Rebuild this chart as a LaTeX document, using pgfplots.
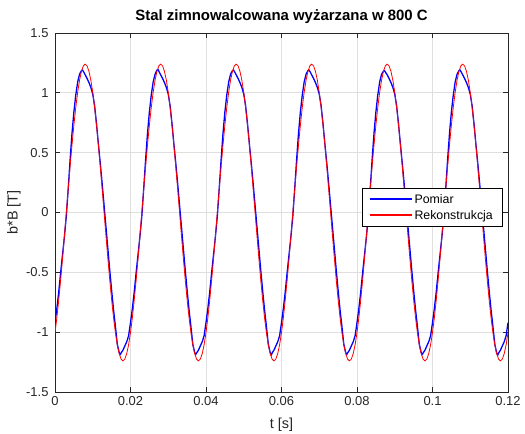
\documentclass[border=0pt]{standalone}
\usepackage{fontspec}
\setmainfont{Liberation Sans}
\usepackage{pgfplots}
\pgfplotsset{compat=1.18}
\usepackage{pgfplotstable}
\definecolor{axcol}{RGB}{38,38,38}
\definecolor{gridcol}{RGB}{223,223,223}
% Pomiar (measured)
\pgfplotstableread{
t b
0.0000 -0.92
0.0005 -0.80
0.0010 -0.66
0.0015 -0.50
0.0020 -0.35
0.0025 -0.20
0.0030 -0.03
0.0035 0.20
0.0040 0.44
0.0045 0.66
0.0050 0.84
0.0055 0.98
0.0060 1.09
0.0065 1.155
0.0070 1.185
0.0073 1.19
0.0076 1.175
0.0080 1.15
0.0085 1.12
0.0090 1.085
0.0095 1.045
0.0100 0.99
0.0105 0.89
0.0110 0.74
0.0115 0.57
0.0120 0.41
0.0125 0.24
0.0130 0.06
0.0135 -0.12
0.0140 -0.30
0.0145 -0.48
0.0150 -0.65
0.0155 -0.81
0.0160 -0.95
0.0165 -1.10
0.0170 -1.17
0.0173 -1.185
0.0176 -1.17
0.0180 -1.15
0.0185 -1.115
0.0190 -1.08
0.0195 -1.03
0.0200 -0.92
0.0205 -0.80
0.0210 -0.66
0.0215 -0.50
0.0220 -0.35
0.0225 -0.20
0.0230 -0.03
0.0235 0.20
0.0240 0.44
0.0245 0.66
0.0250 0.84
0.0255 0.98
0.0260 1.09
0.0265 1.155
0.0270 1.19
0.0273 1.195
0.0276 1.175
0.0280 1.15
0.0285 1.12
0.0290 1.085
0.0295 1.045
0.0300 0.99
0.0305 0.89
0.0310 0.74
0.0315 0.57
0.0320 0.41
0.0325 0.24
0.0330 0.06
0.0335 -0.12
0.0340 -0.30
0.0345 -0.48
0.0350 -0.65
0.0355 -0.81
0.0360 -0.95
0.0365 -1.10
0.0370 -1.17
0.0373 -1.185
0.0376 -1.17
0.0380 -1.15
0.0385 -1.115
0.0390 -1.08
0.0395 -1.03
0.0400 -0.92
0.0405 -0.80
0.0410 -0.66
0.0415 -0.50
0.0420 -0.35
0.0425 -0.20
0.0430 -0.03
0.0435 0.20
0.0440 0.44
0.0445 0.66
0.0450 0.84
0.0455 0.98
0.0460 1.09
0.0465 1.155
0.0470 1.185
0.0473 1.19
0.0476 1.175
0.0480 1.15
0.0485 1.12
0.0490 1.085
0.0495 1.045
0.0500 0.99
0.0505 0.89
0.0510 0.74
0.0515 0.57
0.0520 0.41
0.0525 0.24
0.0530 0.06
0.0535 -0.12
0.0540 -0.30
0.0545 -0.48
0.0550 -0.65
0.0555 -0.81
0.0560 -0.95
0.0565 -1.10
0.0570 -1.17
0.0573 -1.19
0.0576 -1.17
0.0580 -1.15
0.0585 -1.115
0.0590 -1.08
0.0595 -1.03
0.0600 -0.92
0.0605 -0.80
0.0610 -0.66
0.0615 -0.50
0.0620 -0.35
0.0625 -0.20
0.0630 -0.03
0.0635 0.20
0.0640 0.44
0.0645 0.66
0.0650 0.84
0.0655 0.98
0.0660 1.09
0.0665 1.155
0.0670 1.185
0.0673 1.19
0.0676 1.175
0.0680 1.15
0.0685 1.12
0.0690 1.085
0.0695 1.045
0.0700 0.99
0.0705 0.89
0.0710 0.74
0.0715 0.57
0.0720 0.41
0.0725 0.24
0.0730 0.06
0.0735 -0.12
0.0740 -0.30
0.0745 -0.48
0.0750 -0.65
0.0755 -0.81
0.0760 -0.95
0.0765 -1.10
0.0770 -1.17
0.0773 -1.185
0.0776 -1.17
0.0780 -1.15
0.0785 -1.115
0.0790 -1.08
0.0795 -1.03
0.0800 -0.92
0.0805 -0.80
0.0810 -0.66
0.0815 -0.50
0.0820 -0.35
0.0825 -0.20
0.0830 -0.03
0.0835 0.20
0.0840 0.44
0.0845 0.66
0.0850 0.84
0.0855 0.98
0.0860 1.09
0.0865 1.155
0.0870 1.18
0.0873 1.185
0.0876 1.17
0.0880 1.15
0.0885 1.12
0.0890 1.085
0.0895 1.045
0.0900 0.99
0.0905 0.89
0.0910 0.74
0.0915 0.57
0.0920 0.41
0.0925 0.24
0.0930 0.06
0.0935 -0.12
0.0940 -0.30
0.0945 -0.48
0.0950 -0.65
0.0955 -0.81
0.0960 -0.95
0.0965 -1.10
0.0970 -1.17
0.0973 -1.185
0.0976 -1.17
0.0980 -1.15
0.0985 -1.115
0.0990 -1.08
0.0995 -1.03
0.1000 -0.92
0.1005 -0.80
0.1010 -0.66
0.1015 -0.50
0.1020 -0.35
0.1025 -0.20
0.1030 -0.03
0.1035 0.20
0.1040 0.44
0.1045 0.66
0.1050 0.84
0.1055 0.98
0.1060 1.09
0.1065 1.155
0.1070 1.185
0.1073 1.19
0.1076 1.175
0.1080 1.15
0.1085 1.12
0.1090 1.085
0.1095 1.045
0.1100 0.99
0.1105 0.89
0.1110 0.74
0.1115 0.57
0.1120 0.41
0.1125 0.24
0.1130 0.06
0.1135 -0.12
0.1140 -0.30
0.1145 -0.48
0.1150 -0.65
0.1155 -0.81
0.1160 -0.95
0.1165 -1.10
0.1170 -1.175
0.1173 -1.19
0.1176 -1.17
0.1180 -1.15
0.1185 -1.115
0.1190 -1.08
0.1195 -1.03
0.1200 -0.92
}\bluetable
% Rekonstrukcja
\pgfplotstableread{
t r
0.0000 -1.003
0.0005 -0.877
0.0010 -0.729
0.0015 -0.563
0.0020 -0.383
0.0025 -0.194
0.0030 0
0.0035 0.194
0.0040 0.383
0.0045 0.563
0.0050 0.729
0.0055 0.877
0.0060 1.003
0.0065 1.105
0.0070 1.179
0.0075 1.225
0.0080 1.240
0.0085 1.225
0.0090 1.179
0.0095 1.105
0.0100 1.003
0.0105 0.877
0.0110 0.729
0.0115 0.563
0.0120 0.383
0.0125 0.194
0.0130 0
0.0135 -0.194
0.0140 -0.383
0.0145 -0.563
0.0150 -0.729
0.0155 -0.877
0.0160 -1.003
0.0165 -1.105
0.0170 -1.179
0.0175 -1.225
0.0180 -1.240
0.0185 -1.225
0.0190 -1.179
0.0195 -1.105
0.0200 -1.003
0.0205 -0.877
0.0210 -0.729
0.0215 -0.563
0.0220 -0.383
0.0225 -0.194
0.0230 0
0.0235 0.194
0.0240 0.383
0.0245 0.563
0.0250 0.729
0.0255 0.877
0.0260 1.003
0.0265 1.105
0.0270 1.179
0.0275 1.225
0.0280 1.240
0.0285 1.225
0.0290 1.179
0.0295 1.105
0.0300 1.003
0.0305 0.877
0.0310 0.729
0.0315 0.563
0.0320 0.383
0.0325 0.194
0.0330 0
0.0335 -0.194
0.0340 -0.383
0.0345 -0.563
0.0350 -0.729
0.0355 -0.877
0.0360 -1.003
0.0365 -1.105
0.0370 -1.179
0.0375 -1.225
0.0380 -1.240
0.0385 -1.225
0.0390 -1.179
0.0395 -1.105
0.0400 -1.003
0.0405 -0.877
0.0410 -0.729
0.0415 -0.563
0.0420 -0.383
0.0425 -0.194
0.0430 0
0.0435 0.194
0.0440 0.383
0.0445 0.563
0.0450 0.729
0.0455 0.877
0.0460 1.003
0.0465 1.105
0.0470 1.179
0.0475 1.225
0.0480 1.240
0.0485 1.225
0.0490 1.179
0.0495 1.105
0.0500 1.003
0.0505 0.877
0.0510 0.729
0.0515 0.563
0.0520 0.383
0.0525 0.194
0.0530 0
0.0535 -0.194
0.0540 -0.383
0.0545 -0.563
0.0550 -0.729
0.0555 -0.877
0.0560 -1.003
0.0565 -1.105
0.0570 -1.179
0.0575 -1.225
0.0580 -1.240
0.0585 -1.225
0.0590 -1.179
0.0595 -1.105
0.0600 -1.003
0.0605 -0.877
0.0610 -0.729
0.0615 -0.563
0.0620 -0.383
0.0625 -0.194
0.0630 0
0.0635 0.194
0.0640 0.383
0.0645 0.563
0.0650 0.729
0.0655 0.877
0.0660 1.003
0.0665 1.105
0.0670 1.179
0.0675 1.225
0.0680 1.240
0.0685 1.225
0.0690 1.179
0.0695 1.105
0.0700 1.003
0.0705 0.877
0.0710 0.729
0.0715 0.563
0.0720 0.383
0.0725 0.194
0.0730 0
0.0735 -0.194
0.0740 -0.383
0.0745 -0.563
0.0750 -0.729
0.0755 -0.877
0.0760 -1.003
0.0765 -1.105
0.0770 -1.179
0.0775 -1.225
0.0780 -1.240
0.0785 -1.225
0.0790 -1.179
0.0795 -1.105
0.0800 -1.003
0.0805 -0.877
0.0810 -0.729
0.0815 -0.563
0.0820 -0.383
0.0825 -0.194
0.0830 0
0.0835 0.194
0.0840 0.383
0.0845 0.563
0.0850 0.729
0.0855 0.877
0.0860 1.003
0.0865 1.105
0.0870 1.179
0.0875 1.225
0.0880 1.240
0.0885 1.225
0.0890 1.179
0.0895 1.105
0.0900 1.003
0.0905 0.877
0.0910 0.729
0.0915 0.563
0.0920 0.383
0.0925 0.194
0.0930 0
0.0935 -0.194
0.0940 -0.383
0.0945 -0.563
0.0950 -0.729
0.0955 -0.877
0.0960 -1.003
0.0965 -1.105
0.0970 -1.179
0.0975 -1.225
0.0980 -1.240
0.0985 -1.225
0.0990 -1.179
0.0995 -1.105
0.1000 -1.003
0.1005 -0.877
0.1010 -0.729
0.1015 -0.563
0.1020 -0.383
0.1025 -0.194
0.1030 0
0.1035 0.194
0.1040 0.383
0.1045 0.563
0.1050 0.729
0.1055 0.877
0.1060 1.003
0.1065 1.105
0.1070 1.179
0.1075 1.225
0.1080 1.240
0.1085 1.225
0.1090 1.179
0.1095 1.105
0.1100 1.003
0.1105 0.877
0.1110 0.729
0.1115 0.563
0.1120 0.383
0.1125 0.194
0.1130 0
0.1135 -0.194
0.1140 -0.383
0.1145 -0.563
0.1150 -0.729
0.1155 -0.877
0.1160 -1.003
0.1165 -1.105
0.1170 -1.179
0.1175 -1.225
0.1180 -1.240
0.1185 -1.225
0.1190 -1.179
0.1195 -1.105
0.1200 -1.003
}\redtable

\begin{document}
\begin{tikzpicture}
\path[use as bounding box] (-55bp,-42bp) rectangle (470bp,392bp);
\begin{axis}[
  at={(0,0)}, anchor=south west,
  scale only axis, width=453bp, height=359bp,
  xmin=0, xmax=0.12, ymin=-1.5, ymax=1.5,
  xtick={0,0.02,0.04,0.06,0.08,0.1,0.12},
  xticklabels={0,0.02,0.04,0.06,0.08,0.1,0.12},
  ytick={-1.5,-1,-0.5,0,0.5,1,1.5},
  yticklabels={-1.5,-1,-0.5,0,0.5,1,1.5},
  scaled x ticks=false, scaled y ticks=false,
  tick align=inside, xtick pos=both, ytick pos=both,
  major tick length=5bp,
  grid=major, grid style={gridcol, line width=0.8bp},
  axis line style={axcol, line width=1bp},
  every tick/.style={axcol, line width=1bp},
  tick label style={font=\fontsize{13}{15}\selectfont, text=axcol},
  xticklabel style={yshift=-1bp},
  yticklabel style={xshift=-3bp},
  title={\textbf{Stal zimnowalcowana wyżarzana w 800 C}},
  title style={font=\fontsize{15}{17}\selectfont, at={(axis description cs:0.5,1)}, anchor=base, yshift=7bp},
  xlabel={t [s]}, ylabel={b*B [T]},
  label style={font=\fontsize{14.5}{17}\selectfont, text=axcol},
  xlabel style={at={(axis description cs:0.5,-0.0919)}, anchor=center},
  ylabel style={at={(axis description cs:-0.0905,0.5)}, anchor=center},
  legend cell align=left,
  legend style={at={(axis description cs:0.9883,0.5674)}, anchor=north east,
    fill=white,
    font=\fontsize{12.4}{14}\selectfont,
    inner xsep=7bp, inner ysep=3bp, row sep=0bp,
    nodes={inner sep=2.7bp},
    /tikz/every even column/.append style={column sep=3bp}},
]
\addplot[blue, line width=1.3bp,
  legend image code/.code={\fill[fill=blue] (0bp,-0.4bp) rectangle (41bp,0.4bp);}]
  table[x=t, y=b] {\bluetable};
\addlegendentry{Pomiar}
\addplot[red, line width=0.8bp,
  legend image code/.code={\fill[fill=red] (0bp,-0.4bp) rectangle (41bp,0.4bp);}]
  table[x=t, y=r] {\redtable};
\addlegendentry{Rekonstrukcja}
\end{axis}
\end{tikzpicture}
\end{document}
